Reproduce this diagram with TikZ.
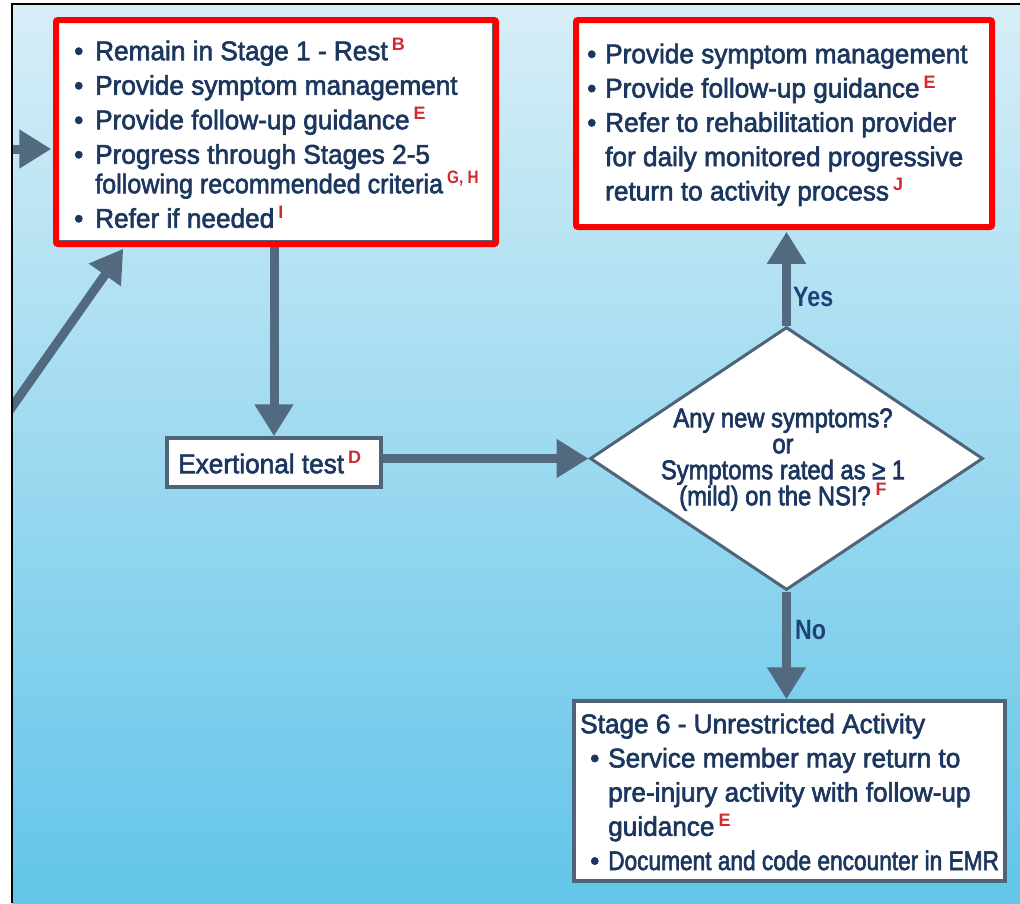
\documentclass[tikz,border=0pt]{standalone}
\usepackage{fontspec}
\usepackage{graphicx}
\setmainfont{Liberation Sans}[FakeStretch=0.97,FakeBold=2.2]
\newfontfamily\supfont{Liberation Sans}
\newfontfamily\condfont{Liberation Sans}[FakeStretch=0.88,FakeBold=2.4]
\newfontfamily\narrowfont{Liberation Sans}[FakeStretch=0.84,FakeBold=2.2]
\newfontfamily\labfont{Liberation Sans}[FakeStretch=0.83]
\usetikzlibrary{arrows.meta,shapes.geometric,shadows}

\definecolor{navy}{HTML}{1B375F}
\definecolor{labnavy}{HTML}{1E4275}
\definecolor{slate}{HTML}{516A7F}
\definecolor{edge}{HTML}{4F6478}
\definecolor{refred}{HTML}{D02A30}
\definecolor{annotred}{HTML}{FF0000}
\definecolor{bgtop}{HTML}{D7EEF7}
\definecolor{bgbot}{HTML}{62C5E9}

% one text line with a fixed strut height of 25pt above the baseline
\newcommand\tline[1]{\hbox{\rule{0pt}{25pt}#1}}
% red reference letter, raised
\newcommand\sref[1]{\hspace{4pt}\raisebox{9.5pt}[0pt][0pt]{\supfont\bfseries\fontsize{18}{18}\selectfont\color{refred}#1}}
% bullet in a box of the given width
\newcommand\bul[1]{\makebox[#1][l]{•}}
% stack of lines with a fixed baseline distance
\newcommand\tblock[2]{\vbox{\baselineskip=#1\lineskiplimit=-100pt\lineskip=0pt #2}}
% centred line for the decision text
\newcommand\qline[1]{\hbox to 320pt{\hss\rule{0pt}{25pt}#1\hss}}

\begin{document}
\begin{tikzpicture}[x=1pt,y=-1pt,
  box/.style={draw=edge, line width=3.5pt, fill=white, inner sep=0pt,
    drop shadow={shadow xshift=2pt, shadow yshift=-2pt, opacity=0.25}},
  conn/.style={draw=slate, line width=9pt, -{Triangle[width=37pt,length=32pt]}},
  txt/.style={inner sep=0pt, text=navy, font=\fontsize{27}{34}\selectfont, anchor=north west},
  annot/.style={draw=annotred, line width=6pt, rounded corners=2pt},
  lab/.style={inner sep=0pt, text=labnavy, font=\labfont\bfseries\fontsize{28}{28}\selectfont, anchor=base west}]

\useasboundingbox (0,0) rectangle (1020,903);
\fill[white] (0,0) rectangle (1020,903);
\shade[top color=bgtop, bottom color=bgbot] (12,4) rectangle (1020,903);

% boxes
\node[box, minimum width=437pt, minimum height=221pt] (boxL) at (275.5,131.5) {};
\node[box, minimum width=414pt, minimum height=205pt] (boxR) at (784,123.5) {};
\node[box, minimum width=214pt, minimum height=49pt] (boxE) at (274,462.5) {};
\node[box, minimum width=431pt, minimum height=180pt] (boxB) at (789.5,791) {};
\node[draw=edge, line width=3pt, fill=white, shape=diamond, inner sep=0pt,
      minimum width=393pt, minimum height=263pt] (dia) at (786.5,458.5) {};

% incoming connectors from the left
\coordinate (inL) at (0,149);
\coordinate (inD) at (0,424);
\coordinate (dTip) at ([xshift=68pt,yshift=-5pt]boxL.south west);
\begin{scope}
  \clip (12,4) rectangle (1020,903);
  \draw[conn, shorten >=4pt] (inL) -- (inL -| boxL.west);
  \draw[conn] (inD) -- (dTip);
\end{scope}

% flow connectors
\draw[conn] (boxE.north |- boxL.south) -- (boxE.north);
\draw[conn] (boxE.east |- dia.west) -- (dia.west);
\draw[conn, shorten >=4pt] (dia.north) -- (dia.north |- boxR.south);
\draw[conn] (dia.south) -- (dia.south |- boxB.north);

% red highlight frames
\draw[annot] (56,20) rectangle (496,244);
\draw[annot] (576,20) rectangle (992,227);

% frame of the panel
\draw[black, line width=1.6pt] (12,903) -- (12,4) -- (1020,4);

% box texts
\node[txt] (tL) at (74,35) {\tblock{34.5pt}{%
  \tline{\bul{21pt}Remain in Stage 1 - Rest\sref{B}}
  \tline{\bul{21pt}Provide symptom management}
  \tline{\bul{21pt}Provide follow-up guidance\sref{E}}
  \tline{\bul{21pt}Progress through Stages 2-5}
  \kern-5pt
  \tline{\hspace{21pt}\scalebox{0.96}[1]{following recommended criteria}\sref{\scalebox{0.85}[1]{G, H}}}
  \tline{\bul{21pt}Refer if needed\sref{I}}}};

\node[txt] (tR) at (587,38) {\tblock{34.3pt}{%
  \tline{\bul{18pt}Provide symptom management}
  \tline{\bul{18pt}Provide follow-up guidance\sref{E}}
  \tline{\bul{18pt}Refer to rehabilitation provider}
  \tline{\hspace{18pt}for daily monitored progressive}
  \tline{\hspace{18pt}return to activity process\sref{J}}}};

\node[txt] (tE) at (178,448) {\tblock{34pt}{\tline{Exertional test\sref{D}}}};

\node[txt] (tB) at (580,708) {\tblock{34.2pt}{%
  \tline{Stage 6 - Unrestricted Activity}
  \tline{\hspace{10pt}\bul{18pt}Service member may return to}
  \tline{\hspace{28pt}pre-injury activity with follow-up}
  \tline{\hspace{28pt}guidance\sref{E}}
  \tline{\hspace{10pt}\bul{18pt}{\narrowfont Document and code encounter in EMR}}}};

\node[txt, anchor=north, font=\condfont\fontsize{27}{26}\selectfont] (tQ) at (783,402) {\tblock{26pt}{%
  \qline{Any new symptoms?}
  \qline{or}
  \qline{Symptoms rated as ≥ 1}
  \qline{(mild) on the NSI?\hspace{1pt}\sref{F}}}};

% branch labels
\node[lab] (yes) at (793,306) {Yes};
\node[lab] (no) at (795,639) {No};
\end{tikzpicture}
\end{document}
